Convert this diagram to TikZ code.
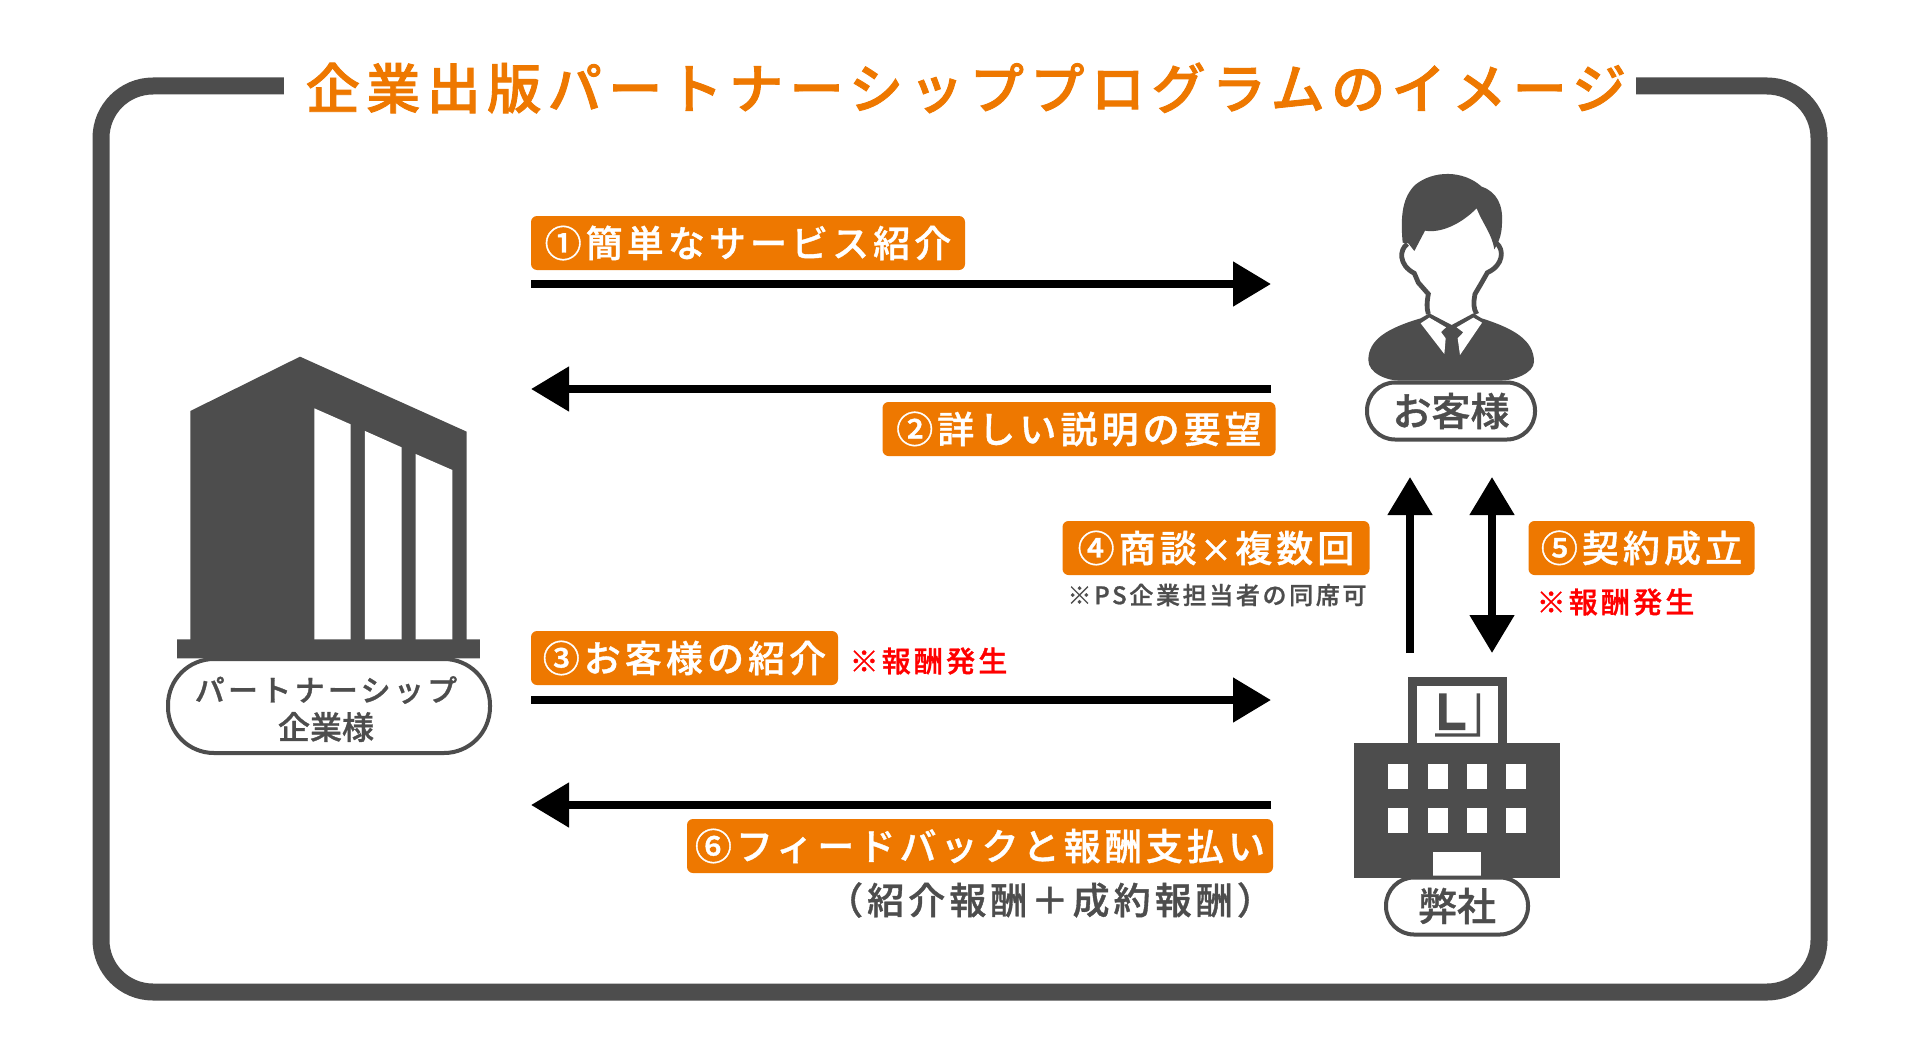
\documentclass[tikz,border=0pt]{standalone}
\usepackage{fontspec}
\usetikzlibrary{arrows.meta}
\setmainfont[FakeBold=1]{Noto Sans CJK JP Medium}
\newfontfamily\cjkwide[LetterSpace=11,FakeBold=1]{Noto Sans CJK JP Medium}
\newfontfamily\cjkhead[LetterSpace=12,FakeBold=1.6]{Noto Sans CJK JP Medium}
\definecolor{brandorange}{HTML}{EE7800}
\definecolor{icongray}{HTML}{4D4D4D}
\tikzset{
  tag/.style={fill=brandorange,rounded corners=3pt,inner sep=0pt,text=white,
    minimum height=27pt,font=\cjkwide\fontsize{18.5}{20}\selectfont},
  flow/.style={line width=4pt,draw=black,-{Triangle[length=19pt,width=21.5pt]}},
  flowboth/.style={line width=4pt,draw=black,{Triangle[length=19pt,width=21.5pt]}-{Triangle[length=19pt,width=21.5pt]}},
  pill/.style={draw=icongray,line width=2pt,fill=white,rounded corners=15pt,inner sep=0pt,
    text=icongray,align=center},
  reward/.style={inner sep=0pt,text=red,font=\cjkwide\fontsize{14.5}{16}\selectfont},
  note/.style={inner sep=0pt,text=icongray},
  dark/.style={fill=icongray,draw=none},
  hole/.style={fill=white,draw=none},
}
\begin{document}
\begin{tikzpicture}[x=0.5pt,y=-0.5pt]
\useasboundingbox (0,0) rectangle (1920,1054);
\fill[white] (0,0) rectangle (1920,1054);

% outer frame and heading
\draw[icongray,line width=8.5pt,rounded corners=26pt] (101,86) rectangle (1819,992);
\node[fill=white,inner sep=0pt,minimum width=676pt,minimum height=24pt] (titlebar) at (960,88) {};
\node[inner sep=0pt,text=brandorange,font=\cjkhead\fontsize{27}{30}\selectfont] (title) at (966,88)
  {企業出版パートナーシッププログラムのイメージ};

% partner company building
\begin{scope}[shift={(150,340)},x=0.5pt/3,y=-0.5pt/3]
  \fill[dark] (121,213)--(450,50)--(950,275)--(950,898)--(990,898)--(990,955)--(81,955)--(81,898)--(121,898)--cycle;
  \fill[hole] (493,205)--(602,253)--(602,898)--(493,898)--cycle;
  \fill[hole] (645,273)--(755,322)--(755,898)--(645,898)--cycle;
  \fill[hole] (797,342)--(907,390)--(907,898)--(797,898)--cycle;
\end{scope}
\node[pill,rounded corners=23pt,minimum width=161pt,minimum height=47pt] (partner) at (329,706) {};
\node[note,font=\cjkwide\fontsize{15}{17}\selectfont] (partnerA) at (326,690) {パートナーシップ};
\node[note,font=\fontsize{16}{18}\selectfont] (partnerB) at (326,727) {企業様};

% customer figure
\begin{scope}[shift={(1300,150)},x=0.5pt/3,y=-0.5pt/3]
  \fill[dark] (205,630) .. controls (205,570) and (260,535) .. (362,505)
    -- (388,490) -- (455,525) -- (520,490) -- (545,505)
    .. controls (640,535) and (702,570) .. (702,635)
    .. controls (702,670) and (640,692) .. (600,692) -- (300,692)
    .. controls (260,692) and (205,670) .. (205,630) -- cycle;
  \fill[hole] (362,520) -- (388,503) -- (438,532) -- (423,546) -- (437,565) -- (433,612) -- cycle;
  \fill[hole] (546,518) -- (520,503) -- (470,532) -- (490,547) -- (473,565) -- (480,615) -- cycle;
  \draw[icongray,line width=2.4pt] (322,282) .. controls (298,298) and (295,345) .. (343,370)
    -- (355,398) -- (385,432) .. controls (380,460) and (380,475) .. (385,492);
  \draw[icongray,line width=2.4pt] (590,280) .. controls (612,298) and (612,345) .. (562,368)
    -- (545,398) -- (525,432) .. controls (520,460) and (520,475) .. (530,492);
  \fill[dark] (308,278) .. controls (300,190) and (310,140) .. (345,105)
    .. controls (400,60) and (490,60) .. (545,110)
    .. controls (590,125) and (610,165) .. (606,220)
    .. controls (605,250) and (600,270) .. (583,298)
    .. controls (575,250) and (550,225) .. (530,175)
    .. controls (480,225) and (420,250) .. (375,242)
    -- (343,303) -- (325,280) -- cycle;
\end{scope}
\node[pill,rounded corners=14pt,minimum width=84pt,minimum height=28.5pt,font=\fontsize{19.5}{21}\selectfont] (customer) at (1451,411) {お客様};

% our company building
\begin{scope}[shift={(1320,650)},x=0.5pt/3,y=-0.5pt/3]
  \fill[dark] (263,80) rectangle (560,300);
  \fill[hole] (291,108) rectangle (533,280);
  \fill[dark] (103,280) rectangle (720,685);
  \fill[dark] (357,130) rectangle (380,240) (357,218) rectangle (436,240);
  \fill[dark] (345,250) rectangle (480,260) (470,130) rectangle (480,260);
  \foreach \wx/\wr in {205/265,323/383,442/500,559/617} {
    \fill[hole] (\wx,343) rectangle (\wr,416);
    \fill[hole] (\wx,475) rectangle (\wr,548);
  }
  \fill[hole] (340,607) rectangle (484,677);
\end{scope}
\node[pill,rounded corners=14pt,minimum width=71pt,minimum height=28.5pt,font=\fontsize{19.5}{21}\selectfont] (ourco) at (1457,906) {弊社};

% free ends of the horizontal and vertical flows
\coordinate (leftA) at (531,284);  \coordinate (rightA) at (1271,284);
\coordinate (leftB) at (531,389);  \coordinate (rightB) at (1271,389);
\coordinate (leftC) at (531,700);  \coordinate (rightC) at (1271,700);
\coordinate (leftD) at (531,805);  \coordinate (rightD) at (1271,805);
\coordinate (upTop) at (1410,477); \coordinate (upBase) at (1410,653);
\coordinate (bothTop) at (1492,477); \coordinate (bothBase) at (1492,653);

\draw[flow] (leftA) -- (rightA);
\draw[flow] (rightB) -- (leftB);
\draw[flow] (leftC) -- (rightC);
\draw[flow] (rightD) -- (leftD);
\draw[flow] (upBase) -- (upTop);
\draw[flowboth] (bothTop) -- (bothBase);

% step labels
\node[tag,minimum width=217pt] (s1) at (748,243) {①簡単なサービス紹介};
\node[tag,minimum width=196.5pt] (s2) at (1079,429) {②詳しい説明の要望};
\node[tag,minimum width=153.5pt] (s3) at (684.5,658) {③お客様の紹介};
\node[tag,minimum width=153.5pt] (s4) at (1216,548) {④商談\hspace{1.6pt}{\fontsize{16}{18}\selectfont ×}\hspace{1.6pt}複数回};
\node[tag,minimum width=113pt] (s5) at (1641.5,548) {⑤契約成立};
\node[tag,minimum width=293pt] (s6) at (980,846) {⑥フィードバックと報酬支払い};

\node[reward] (r1) at (928.5,661) {※報酬発生};
\node[reward] (r2) at (1615.5,602) {※報酬発生};
\node[note,font=\cjkwide\fontsize{12}{14}\selectfont] (n4) at (1217,595) {※PS企業担当者の同席可};
\node[note,font=\cjkwide\fontsize{18.5}{20}\selectfont] (n6) at (1050,900) {（紹介報酬＋成約報酬）};
\end{tikzpicture}
\end{document}
